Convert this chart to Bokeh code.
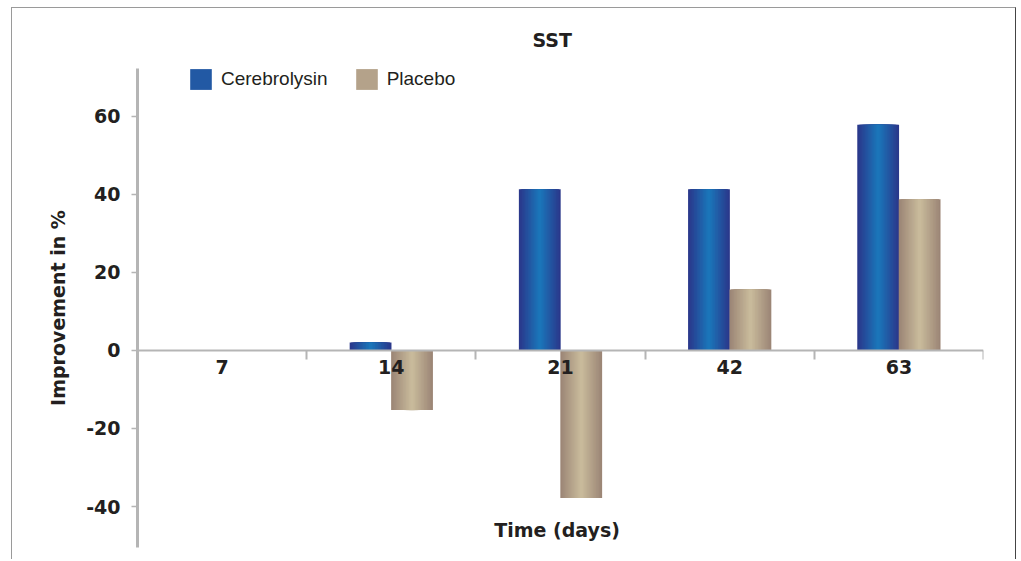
from bokeh.plotting import figure
from bokeh.models import (ColumnDataSource, FactorRange, Range1d, LinearAxis,
                          CategoricalAxis, FixedTicker, Legend, LegendItem, Label,
                          PrintfTickFormatter)
from bokeh.transform import dodge
from bokeh.embed import file_html
from bokeh.resources import INLINE

# ---- data ----
days = ["7", "14", "21", "42", "63"]
cerebrolysin = [0, 2.0, 41.3, 41.3, 57.8]
placebo = [0, -15.3, -37.8, 15.6, 38.7]
y_ticks = [-40, -20, 0, 20, 40, 60]
title_text = "SST"
x_label = "Time (days)"
y_label = "Improvement in %"

src = ColumnDataSource(dict(day=days, cere=cerebrolysin, plac=placebo))

TXT = "#231f20"
BOLD = "DejaVu Sans"

p = figure(x_range=FactorRange(factors=days, range_padding=0),
           y_range=Range1d(-50.5, 72.2),
           width=1005, height=552, output_backend="svg", toolbar_location=None,
           x_axis_location=None, y_axis_location="left",
           min_border_left=125, min_border_right=34, min_border_top=57,
           min_border_bottom=13, title=title_text)
p.styles = {"margin-left": "11px", "margin-top": "7px",
            "border-left": "1px solid #9a9a9a", "border-top": "1px solid #9a9a9a",
            "border-right": "1px solid #444"}
p.outline_line_color = None
p.grid.grid_line_color = None
p.background_fill_color = "white"
p.border_fill_color = "white"

p.title.align = "left"
p.title.offset = 395
p.title.standoff = 36
p.title.text_font = BOLD
p.title.text_font_size = "19px"
p.title.text_font_style = "bold"
p.title.text_color = TXT

# y axis
ya = p.yaxis[0]
ya.ticker = FixedTicker(ticks=y_ticks)
ya.formatter = PrintfTickFormatter(format="%d")
ya.axis_line_color = "#b5b5b5"
ya.axis_line_width = 3
ya.major_tick_line_color = "#b5b5b5"
ya.major_tick_line_width = 1.5
ya.major_tick_out = 6
ya.major_tick_in = 0
ya.minor_tick_line_color = None
ya.major_label_text_font = BOLD
ya.major_label_text_font_style = "bold"
ya.major_label_text_font_size = "19px"
ya.major_label_text_color = TXT
ya.major_label_standoff = 11
ya.axis_label = y_label
ya.axis_label_text_font = BOLD
ya.axis_label_text_font_style = "bold"
ya.axis_label_text_font_size = "19px"
ya.axis_label_text_color = TXT
ya.axis_label_standoff = 14

# bars with horizontal gradient made of nested bars
def lerp(c1, c2, t):
    a = [int(c1[i:i + 2], 16) for i in (1, 3, 5)]
    b = [int(c2[i:i + 2], 16) for i in (1, 3, 5)]
    return "#%02x%02x%02x" % tuple(round(a[j] + (b[j] - a[j]) * t) for j in range(3))

W = 0.245
N = 14
series = [("cere", -W / 2, "#2a388b", "#1b75b9", "Cerebrolysin"),
          ("plac", W / 2, "#9c8676", "#c8ba9b", "Placebo")]
legend_items = []
for col, off, edge, center, name in series:
    mid_r = None
    for k in range(N):
        t = k / (N - 1)
        r = p.vbar(x=dodge("day", off, range=p.x_range), top=col, bottom=0,
                   width=W * (1 - k / N) + 0.002, source=src,
                   fill_color=lerp(edge, center, t), line_color=None)
        if k == N // 2:
            mid_r = r
    legend_items.append(LegendItem(label=name, renderers=[mid_r]))

# x axis fixed at zero: labels at centres
xa = CategoricalAxis(fixed_location=0)
xa.axis_line_color = "#b5b5b5"
xa.axis_line_width = 2
xa.major_tick_line_color = None
xa.major_tick_out = 0
xa.major_tick_in = 0
xa.major_label_text_font = BOLD
xa.major_label_text_font_style = "bold"
xa.major_label_text_font_size = "19px"
xa.major_label_text_color = TXT
xa.major_label_standoff = 10
p.add_layout(xa, "below")

# boundary ticks between categories
ta = LinearAxis(fixed_location=0, ticker=FixedTicker(ticks=[1, 2, 3, 4, 5]))
ta.axis_line_color = None
ta.major_tick_line_color = "#b5b5b5"
ta.major_tick_line_width = 2
ta.major_tick_out = 9
ta.major_tick_in = 0
ta.minor_tick_line_color = None
ta.major_label_text_color = None
p.add_layout(ta, "below")

p.add_layout(Label(x=2.48, y=-46, text=x_label, text_align="center",
                   text_baseline="middle", text_font=BOLD, text_font_style="bold",
                   text_font_size="19px", text_color=TXT))

leg = Legend(items=legend_items, orientation="horizontal", location=(50, 455))
leg.glyph_width = 27
leg.glyph_height = 26
leg.label_standoff = 7
leg.spacing = 25
leg.padding = 0
leg.margin = 0
leg.border_line_color = None
leg.background_fill_alpha = 0
leg.label_text_font = "Liberation Sans"
leg.label_text_font_size = "19px"
leg.label_text_color = TXT
p.add_layout(leg, "center")

open("out.html", "w").write(file_html(p, INLINE))
